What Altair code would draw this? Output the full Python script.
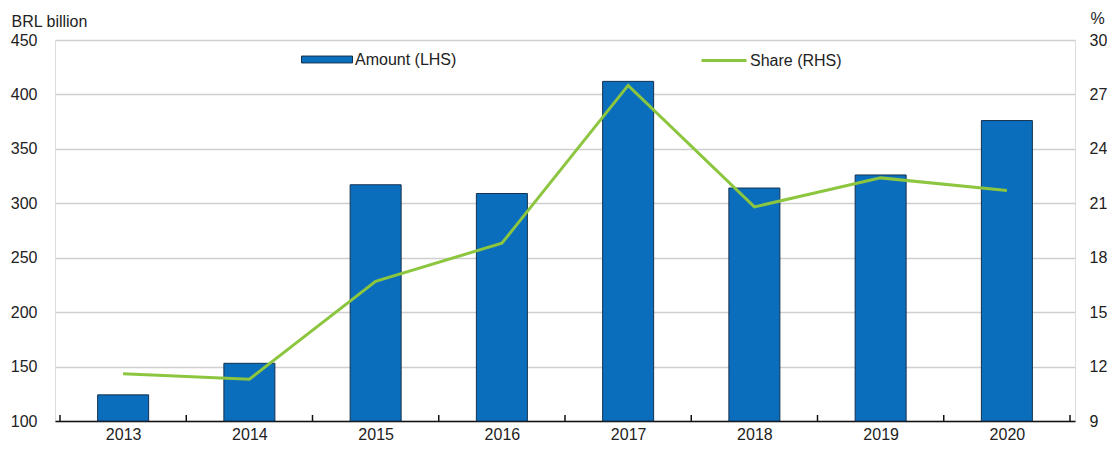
import altair as alt
import pandas as pd

years = [2013, 2014, 2015, 2016, 2017, 2018, 2019, 2020]
amount = [124, 153, 317, 309, 412, 314, 326, 376]
share = [11.6, 11.3, 16.7, 18.8, 27.5, 20.8, 22.4, 21.7]
left_ticks = [100, 150, 200, 250, 300, 350, 400, 450]
right_ticks = [9, 12, 15, 18, 21, 24, 27, 30]

df = pd.DataFrame({"year": years, "amount": amount, "share": share,
                   "amount_name": "Amount (LHS)", "share_name": "Share (RHS)"})
bounds = pd.DataFrame({"b": [y - 0.5 for y in years] + [years[-1] + 0.5]})

FONT = "Liberation Sans"
W, H = 1020, 381
xdom = [years[0] - 0.5, years[-1] + 0.5]

xscale = alt.Scale(domain=xdom, nice=False, zero=False)
xaxis = alt.Axis(values=years, format="d", ticks=False, grid=False, domain=True,
                 domainColor="#111111", domainWidth=1.5, labelFontSize=16,
                 labelFont=FONT, labelColor="#222222", labelPadding=5, title=None)

bars = alt.Chart(df).mark_bar(size=51, stroke="#14314f", strokeWidth=1).encode(
    x=alt.X("year:Q", scale=xscale, axis=xaxis),
    y=alt.Y("amount:Q", scale=alt.Scale(domain=[100, 450], nice=False, zero=False),
            axis=alt.Axis(values=left_ticks, orient="left", ticks=False, domain=False,
                          grid=True, gridColor="#cfcfcf", gridWidth=1.5,
                          labelFontSize=16, labelFont=FONT, labelColor="#222222",
                          labelPadding=18, title="BRL billion", titleAngle=0,
                          titleAlign="left", titleBaseline="alphabetic",
                          titleX=-44, titleY=-14, titleFontSize=16,
                          titleFont=FONT, titleFontWeight="normal", titleColor="#222222")),
    y2=alt.datum(100),
    fill=alt.Fill("amount_name:N", scale=alt.Scale(range=["#0a6ebd"]),
                  legend=alt.Legend(title=None, orient="none", legendX=246, legendY=-6.5,
                                    symbolType="M-1,-0.135h2v0.27h-2z", symbolSize=2601,
                                    symbolStrokeColor="#14314f", symbolStrokeWidth=1,
                                    symbolFillColor="#0a6ebd", symbolOpacity=1,
                                    labelFontSize=16, labelFont=FONT, labelColor="#222222",
                                    labelOffset=2, padding=0)),
)

line = alt.Chart(df).mark_line(strokeWidth=3).encode(
    x=alt.X("year:Q", scale=xscale, axis=xaxis),
    y=alt.Y("share:Q", scale=alt.Scale(domain=[9, 30], nice=False, zero=False),
            axis=alt.Axis(values=right_ticks, orient="right", ticks=False, domain=False,
                          grid=False, labelFontSize=16, labelFont=FONT,
                          labelColor="#222222", labelPadding=14, title="%",
                          titleAngle=0, titleAlign="left", titleBaseline="alphabetic",
                          titleX=15, titleY=-17, titleFontSize=16, titleFont=FONT,
                          titleFontWeight="normal", titleColor="#222222")),
    stroke=alt.Stroke("share_name:N", scale=alt.Scale(range=["#8cc63f"]),
                      legend=alt.Legend(title=None, orient="none", legendX=645, legendY=-3.5,
                                        symbolType="stroke", symbolSize=2025,
                                        symbolStrokeWidth=3, labelFontSize=16,
                                        labelFont=FONT, labelColor="#222222",
                                        labelOffset=2, padding=0)),
)

ticks = alt.Chart(bounds).mark_rule(color="#111111", strokeWidth=1.5).encode(
    x=alt.X("b:Q", scale=xscale, axis=xaxis),
    y=alt.value(H),
    y2=alt.value(H - 6),
)

chart = alt.layer(bars, line, ticks).resolve_scale(
    y="independent", fill="independent", stroke="independent"
).properties(
    width=W, height=H,
    autosize=alt.AutoSizeParams(type="none"),
    padding={"left": 47, "top": 32, "right": 32, "bottom": 20},
).configure_view(stroke=None).configure(background="white")

chart.save("out.html", embed_options={"renderer": "svg", "actions": False})
